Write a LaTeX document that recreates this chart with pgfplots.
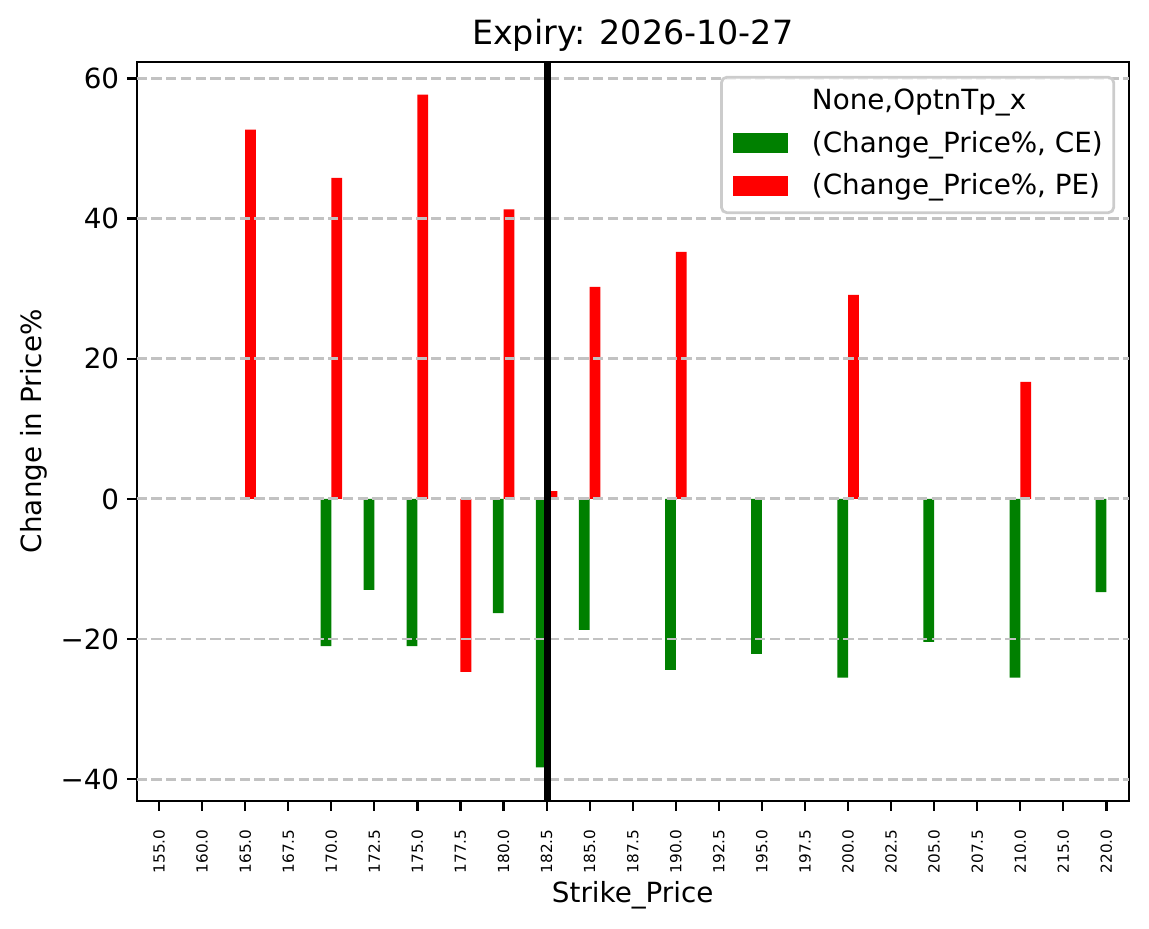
\documentclass[border=0pt]{standalone}
\usepackage{fontspec}
\setmainfont{DejaVu Sans}
\usepackage{pgfplots}
\pgfplotsset{compat=1.18}
\usetikzlibrary{calc}

\definecolor{cegreen}{HTML}{008000}
\definecolor{pered}{HTML}{FF0000}
\definecolor{gridc}{HTML}{C2C2C2}
\definecolor{legedge}{HTML}{CCCCCC}

\begin{document}
\begin{tikzpicture}
\begin{axis}[
    width=357.12pt, height=266.11pt,
    scale only axis,
    xmin=-0.52, xmax=22.52,
    ymin=-43.1, ymax=62.4,
    axis line style={line width=0.8pt},
    tick align=outside,
    tick pos=left,
    major tick length=3.5pt,
    every tick/.style={black, line width=0.8pt},
    xtick={0,...,22},
    xticklabels={155.0,160.0,165.0,167.5,170.0,172.5,175.0,177.5,180.0,182.5,185.0,187.5,190.0,192.5,195.0,197.5,200.0,202.5,205.0,207.5,210.0,215.0,220.0},
    x tick label style={rotate=90, anchor=east, inner sep=0pt, font=\fontsize{5.5}{6}\selectfont},
    xticklabel shift=6.6pt,
    ytick={-40,-20,0,20,40,60},
    yticklabels={−40,−20,0,20,40,60},
    y tick label style={anchor=east, inner sep=0pt, font=\fontsize{10}{12}\selectfont},
    yticklabel shift=2.6pt,
    title={Expiry: 2026-10-27},
    title style={at={(axis description cs:0.5,1)}, anchor=base, inner sep=0pt, font=\fontsize{12}{14}\selectfont},
    xlabel={Strike\_Price},
    every axis x label/.style={at={(axis description cs:0.5,0)}, anchor=base, yshift=-36.4pt, inner sep=0pt, font=\fontsize{10}{12}\selectfont},
    ylabel={Change in Price\%},
    every axis y label/.style={at={(axis description cs:-0.0896,0.5)}, rotate=90, anchor=south, inner sep=0pt, font=\fontsize{10}{12}\selectfont},
    legend style={at={(1,1)}, anchor=north east, xshift=-4.9pt, yshift=-5.1pt,
        draw=legedge, line width=1pt, rounded corners=2pt, fill=white, fill opacity=0.8, text opacity=1,
        font=\fontsize{10}{12}\selectfont,
        inner xsep=4pt, inner ysep=4pt,
        row sep=5.4pt, column sep=8.6pt,
        nodes={inner sep=0pt, text height=7.6pt, text depth=2.4pt, anchor=base west}},
    legend cell align=left,
    legend image code/.code={\fill[#1, draw=none, fill opacity=1, sharp corners] (0pt,-0.2pt) rectangle (20pt,6.8pt);},
]

% legend title row
\addlegendimage{empty legend}
\addlegendentry{None,OptnTp\_x}

% CE
\addplot[ybar, bar width=0.25, bar shift=-0.125, fill=cegreen, draw=none]
    coordinates {
    (4,-21.0) (5,-13.0) (6,-21.0) (8,-16.3) (9,-38.3) (10,-18.7)
    (12,-24.4) (14,-22.1) (16,-25.5) (18,-20.4) (20,-25.5) (22,-13.3)
    };
\addlegendentry{(Change\_Price\%, CE)}

% PE
\addplot[ybar, bar width=0.25, bar shift=0.125, fill=pered, draw=none]
    coordinates {
    (2,52.7) (4,45.8) (6,57.7) (7,-24.7) (8,41.3) (9,1.1)
    (10,30.26) (12,35.26) (16,29.1) (20,16.7)
    };
\addlegendentry{(Change\_Price\%, PE)}

% grid above bars
\pgfplotsinvokeforeach{-40,-20,0,20,40,60}{
  \addplot[gridc, line width=1pt, dash pattern=on 3.7pt off 1.6pt, forget plot]
    coordinates {(-0.52,#1) (22.52,#1)};
}

% spot line
\addplot[black, line width=2.4pt, forget plot] coordinates {(9.02,-43.1) (9.02,62.4)};

\end{axis}
\pgfresetboundingbox
\path ($(current axis.south west)+(-49.2pt,-45.8pt)$) rectangle ($(current axis.south west)+(364.4pt,288.3pt)$);
\end{tikzpicture}
\end{document}
